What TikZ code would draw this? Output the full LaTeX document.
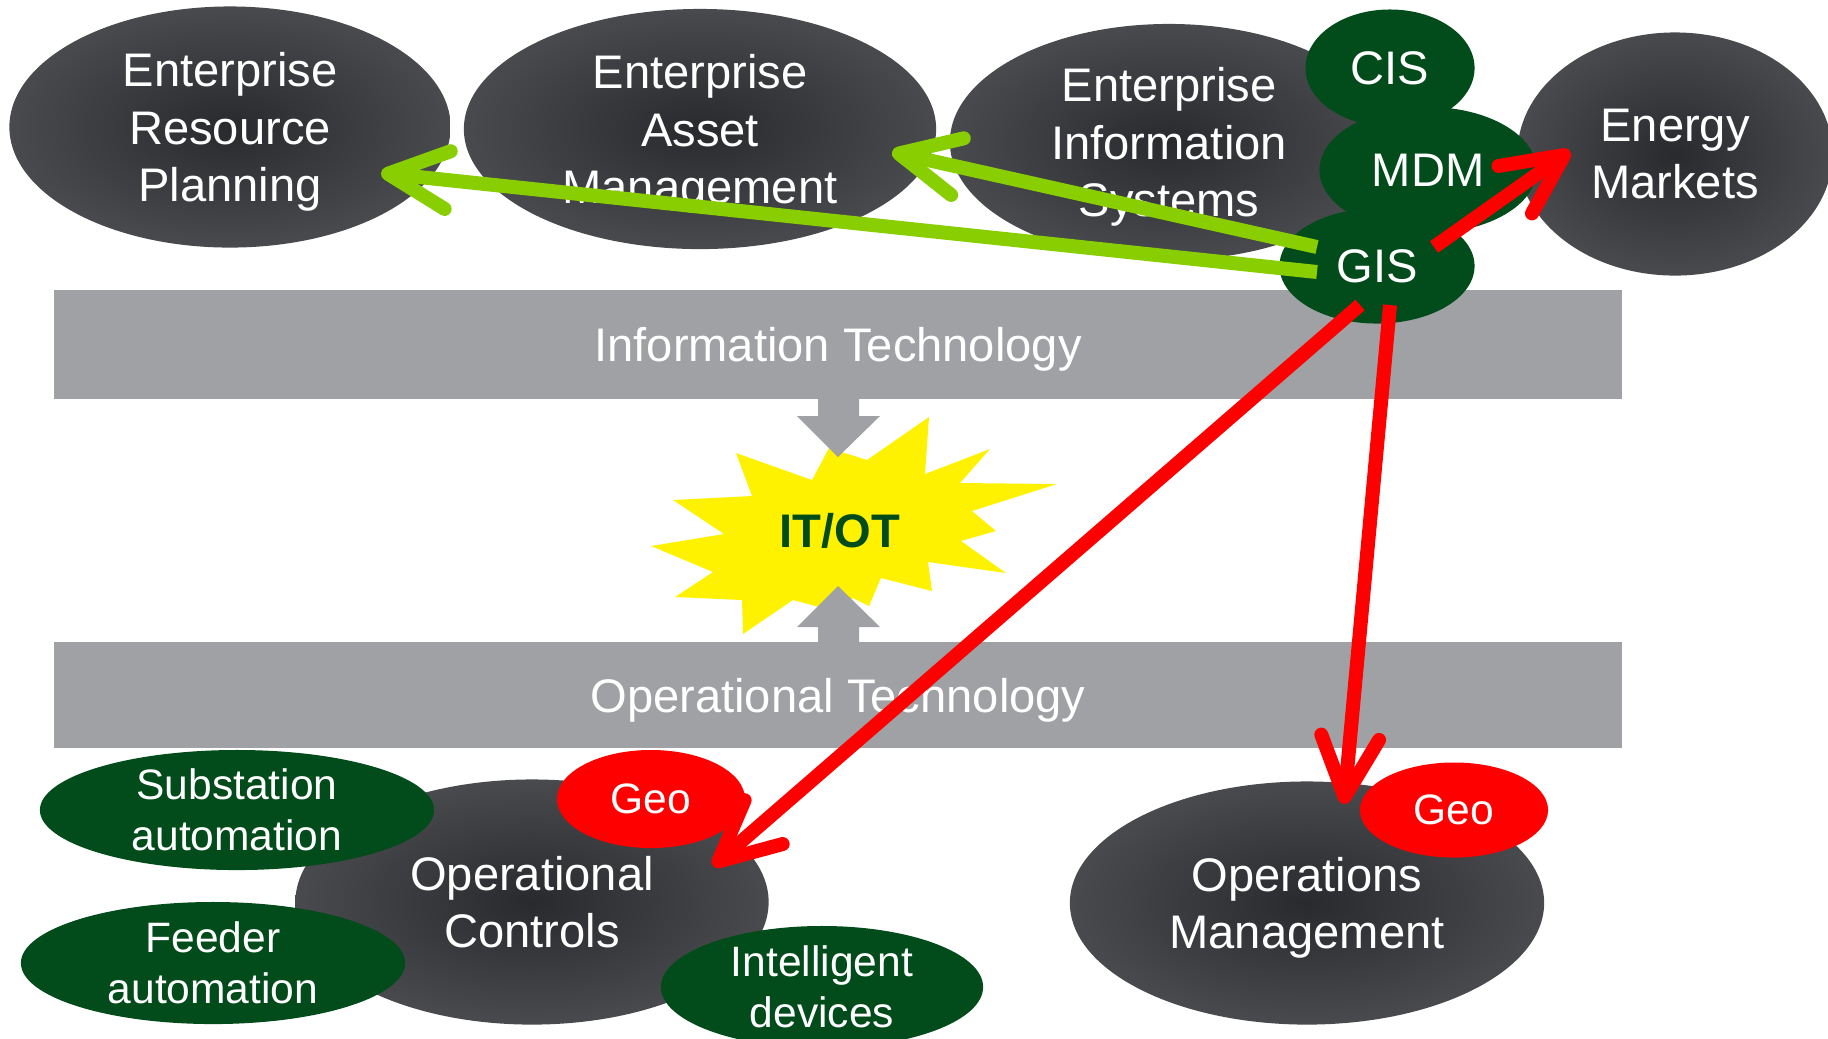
\documentclass[tikz,border=0pt]{standalone}
\usepackage{fontspec}
\setmainfont{Liberation Sans}
\usepackage{xcolor}
\usepackage{tikz}
\usetikzlibrary{shapes.geometric, arrows.meta}
\definecolor{ovalin}{RGB}{40,42,45}
\definecolor{ovalout}{RGB}{72,74,77}
\definecolor{dkgreen}{RGB}{2,75,26}
\definecolor{lime}{RGB}{136,206,0}
\definecolor{bargray}{RGB}{160,161,165}
\definecolor{vermelho}{RGB}{255,0,0}
\newcommand{\lbl}{\fontsize{13.4}{16.3}\selectfont}
\newcommand{\lblsmall}{\fontsize{12.1}{14.4}\selectfont}
\tikzset{
	% elipses escuras
	oval/.style={
		ellipse,
		shade,
		inner color=ovalin,
		outer color=ovalout,
		text=white,
		align=center,
		inner sep=0pt,
		text depth=0pt,
		font=\lbl
	}, %
	% elipses verdes
	gsmall/.style={
		ellipse,
		fill=dkgreen,
		text=white,
		align=center,
		inner xsep=0pt,
		inner ysep=-6pt,
		font=\lblsmall
	}, %
	% elipses vermelhas
	geo/.style={
		ellipse,
		fill=vermelho,
		text=white,
		inner sep=0pt,
		font=\lblsmall
	}, %
	% faixas
	bar/.style={
		rectangle,
		fill=bargray,
		text=white,
		inner sep=0pt,
		text depth=0pt,
		minimum width=15.67cm,
		font=\lbl
	}, %
	link/.style={
		line width=0.14cm,
		-{Straight Barb[length=6mm, width=5.8mm, round]}
	}
}

\begin{document}
\begin{tikzpicture}[x=0.01cm, y=-0.01cm]
			\useasboundingbox (0,0) rectangle (1828,1038);
			\clip (0,0) rectangle (1828,1038);
			
			% faixas IT / OT
			\node[bar, minimum height=1.09cm] (it) at (838,344.5) {Information Technology};
			\node[bar, minimum height=1.06cm] (ot) at (838,695) {Operational Technology};
			
			% sistemas de cima
			\node[oval, minimum width=4.41cm, minimum height=2.41cm] (erp) at (230,127) {Enterprise\\Resource\\Planning};
			\node[oval, minimum width=4.72cm, minimum height=2.40cm] (eam) at (700,129) {Enterprise\\Asset\\Management};
			\node[oval, minimum width=4.38cm, minimum height=2.36cm] (eis) at (1169,142) {Enterprise\\Information\\Systems};
			\node[oval, minimum width=3.15cm, minimum height=2.43cm] (em) at (1675,154) {Energy\\Markets};
			
			% CIS, MDM, GIS
			\node[gsmall, font=\lbl, minimum width=1.69cm, minimum height=1.17cm] (cis) at (1390,68) {CIS};
			\node[gsmall, font=\lbl, minimum width=2.17cm, minimum height=1.26cm] (mdm) at (1428,170) {MDM};
			\node[gsmall, font=\lbl, minimum width=1.95cm, minimum height=1.15cm] (gis) at (1377,266) {GIS};
			
			% estrela
			\fill[yellow] (812,480) -- (829,448) -- (867,460) -- (929,417) -- (925,474)
				-- (990,449) -- (960,483) -- (1057,484) -- (972,511) -- (996,531)
				-- (961,541) -- (1006,573) -- (928,562) -- (932,591) -- (881,578)
				-- (869,606) -- (853,598) -- (838,612) -- (793,600) -- (743,634)
				-- (742,600) -- (675,597) -- (713,572) -- (651,546) -- (724,534)
				-- (673,500) -- (752,496) -- (736,453) -- cycle;
			\node[font=\lbl\bfseries, text=dkgreen] (itot) at (840,531) {IT/OT};
			
			% setas cinzas
			\fill[bargray] (818,399) -- (818,416) -- (797,416) -- (838,457)
				-- (880,416) -- (859,416) -- (859,399) -- cycle;
			\fill[bargray] (818,643) -- (818,627) -- (797,627) -- (838,586)
				-- (880,627) -- (859,627) -- (859,643) -- cycle;
			
			% sistemas de baixo
			\node[oval, minimum width=4.73cm, minimum height=2.45cm] (oc) at (532,902) {Operational\\Controls};
			\node[gsmall, minimum width=3.94cm, minimum height=1.20cm] (sub) at (237,810) {Substation\\automation};
			\node[gsmall, minimum width=3.84cm, minimum height=1.22cm] (feed) at (213,963) {Feeder\\automation};
			\node[gsmall, minimum width=3.22cm, minimum height=1.22cm] (ied) at (822,987) {Intelligent\\devices};
			\node[geo, minimum width=1.88cm, minimum height=0.98cm] (geoa) at (651,799) {Geo};
			
			\node[oval, minimum width=4.74cm, minimum height=2.43cm] (om) at (1307,903) {Operations\\Management};
			\node[geo, minimum width=1.88cm, minimum height=0.95cm] (geob) at (1454,810) {Geo};
			
			% pontas das setas
			\coordinate (gisa) at (1317,272);
			\coordinate (gisb) at (1317,247);
			\coordinate (gisc) at (1434,247);
			\coordinate (gisd) at (1360,305);
			\coordinate (gise) at (1390,305);
			\coordinate (erpin) at (381,173);
			\coordinate (eamin) at (892,152);
			\coordinate (emin) at (1570,151);
			\coordinate (ocin) at (713,866);
			\coordinate (omin) at (1344,804);
			
			% verdes
			\draw[link, lime] (gisa) -- (erpin);
			\draw[link, lime] (gisb) -- (eamin);
			% vermelhas
			\draw[link, vermelho] (gisc) -- (emin);
			\draw[link, vermelho] (gisd) -- (ocin);
			\draw[link, vermelho] (gise) -- (omin);
		\end{tikzpicture}
\end{document}
